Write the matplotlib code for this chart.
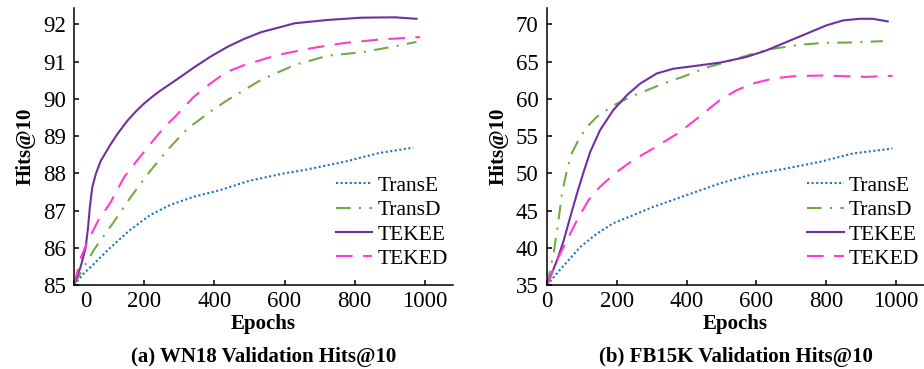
import numpy as np
import matplotlib
matplotlib.use("Agg")
import matplotlib.pyplot as plt
from matplotlib.transforms import ScaledTranslation

plt.rcParams["font.family"] = ["Liberation Serif", "DejaVu Serif"]
plt.rcParams["font.size"] = 15

# WN18 (left panel)
wn_transe_x = [0, 29, 57, 103, 160, 217, 274, 341, 417, 500, 600, 657, 771, 867, 967]
wn_transe_y = [85.0, 85.32, 85.57, 86.0, 86.48, 86.88, 87.15, 87.37, 87.55, 87.8, 88.0, 88.09, 88.31, 88.54, 88.69]
wn_transd_x = [0, 29, 57, 111, 157, 210, 265, 322, 395, 438, 533, 629, 724, 819, 914, 976]
wn_transd_y = [85.0, 85.5, 85.95, 86.66, 87.3, 87.98, 88.61, 89.19, 89.7, 89.97, 90.51, 90.91, 91.16, 91.25, 91.41, 91.53]
wn_tekee_x = [0, 19, 33, 40, 45, 52, 62, 76, 103, 124, 151, 175, 198, 222, 246, 293, 343, 390, 438, 485, 533, 629, 724, 819, 914, 976]
wn_tekee_y = [85.0, 85.49, 85.99, 86.54, 87.08, 87.62, 87.98, 88.33, 88.76, 89.06, 89.4, 89.65, 89.86, 90.05, 90.22, 90.52, 90.85, 91.14, 91.4, 91.61, 91.79, 92.03, 92.12, 92.18, 92.19, 92.15]
wn_teked_x = [0, 20, 40, 70, 103, 143, 177, 215, 255, 291, 341, 387, 432, 486, 581, 676, 771, 867, 986]
wn_teked_y = [85.0, 85.75, 86.2, 86.75, 87.2, 87.9, 88.31, 88.76, 89.21, 89.55, 90.05, 90.4, 90.71, 90.91, 91.18, 91.36, 91.5, 91.59, 91.66]

# FB15K (right panel)
fb_transe_x = [0, 29, 95, 143, 190, 248, 305, 400, 495, 590, 686, 781, 876, 990]
fb_transe_y = [35.0, 36.6, 40.1, 41.9, 43.3, 44.4, 45.5, 47.07, 48.64, 49.88, 50.65, 51.53, 52.66, 53.33]
fb_transd_x = [0, 19, 33, 43, 57, 71, 90, 114, 143, 190, 238, 286, 333, 400, 457, 514, 590, 648, 724, 800, 876, 962]
fb_transd_y = [35.0, 39.25, 43.7, 47.3, 50.4, 52.7, 54.45, 56.2, 57.6, 59.1, 60.25, 61.15, 62.05, 63.15, 64.2, 64.95, 66.06, 66.73, 67.27, 67.53, 67.57, 67.75]
fb_tekee_x = [0, 29, 48, 67, 86, 105, 124, 152, 190, 229, 267, 314, 362, 400, 495, 571, 629, 686, 743, 800, 848, 895, 933, 976]
fb_tekee_y = [35.0, 38.35, 41.0, 44.2, 47.3, 50.2, 52.9, 55.8, 58.5, 60.5, 62.05, 63.4, 64.05, 64.27, 64.86, 65.62, 66.51, 67.63, 68.74, 69.86, 70.53, 70.75, 70.75, 70.4]
fb_teked_x = [0, 29, 57, 86, 119, 152, 200, 248, 305, 381, 448, 495, 543, 590, 648, 705, 781, 857, 914, 990]
fb_teked_y = [35.0, 38.35, 41.0, 43.7, 46.4, 48.2, 50.2, 51.8, 53.35, 55.55, 58.03, 59.82, 61.16, 62.06, 62.73, 63.04, 63.13, 63.04, 62.95, 63.1]

labels = ["TransE", "TransD", "TEKEE", "TEKED"]
colors = ["#1a75c9", "#6fac46", "#7030a0", "#ff3ccc"]
styles = [(0, (1, 1.2)), (0, (7, 4, 1, 4)), "solid", (0, (8, 5))]

fig = plt.figure(figsize=(9.24, 3.69), dpi=100)
ax1 = fig.add_axes([74 / 924, 84 / 369, 379 / 924, 277 / 369])
ax2 = fig.add_axes([547 / 924, 84 / 369, 377 / 924, 277 / 369])

panels = [
    (ax1, [(wn_transe_x, wn_transe_y), (wn_transd_x, wn_transd_y),
           (wn_tekee_x, wn_tekee_y), (wn_teked_x, wn_teked_y)],
     (85, 92.44), np.arange(85, 93, 1), "(a) WN18 Validation Hits@10"),
    (ax2, [(fb_transe_x, fb_transe_y), (fb_transd_x, fb_transd_y),
           (fb_tekee_x, fb_tekee_y), (fb_teked_x, fb_teked_y)],
     (35, 72.2), np.arange(35, 71, 5), "(b) FB15K Validation Hits@10"),
]

for ax, series, ylim, yticks, title in panels:
    for (x, y), lab, c, ls in zip(series, labels, colors, styles):
        ax.plot(x, y, color=c, ls=ls, lw=1.5, label=lab)
    ax.set_xlim(0, 1080)
    ax.set_ylim(*ylim)
    ax.set_xticks([0, 200, 400, 600, 800, 1000])
    ax.set_yticks(yticks)
    ax.spines["top"].set_visible(False)
    ax.spines["right"].set_visible(False)
    for s in ["left", "bottom"]:
        ax.spines[s].set_linewidth(1.1)
    ax.tick_params(axis="both", direction="in", length=3.6, width=1.1, labelsize=16.5)
    ax.tick_params(axis="y", pad=6)
    ax.tick_params(axis="x", pad=4.5)
    ax.set_xlabel("Epochs", fontweight="bold", labelpad=1)
    ax.set_ylabel("Hits@10", fontweight="bold", labelpad=5)
    ax.text(0.5, -0.26, title, transform=ax.transAxes, ha="center", va="center",
            fontweight="bold")
    ax.legend(loc="center left", bbox_to_anchor=(0.69, 0.226), frameon=False,
              borderpad=0, borderaxespad=0, handlelength=1.7, handletextpad=0.25,
              labelspacing=0.2, fontsize=15.5)

# the "0" label on the left panel sits a little right of the spine
lbl = ax1.get_xticklabels()[0]
lbl.set_transform(lbl.get_transform() + ScaledTranslation(12 / 100, 0, fig.dpi_scale_trans))

fig.savefig("out.png", dpi=100)
